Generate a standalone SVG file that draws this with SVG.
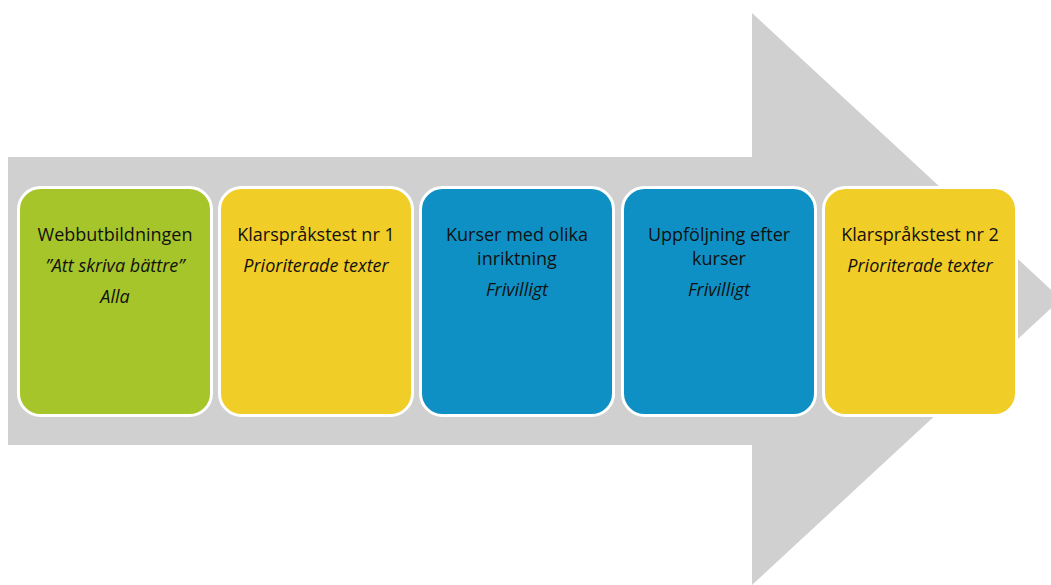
<svg xmlns="http://www.w3.org/2000/svg" width="1051" height="585" viewBox="0 0 1051 585">
<style>
.box{stroke:#fff;stroke-width:3}
.g{fill:#A5C52A}.y{fill:#F1CD27}.b{fill:#0F90C4}
text{font-family:"Open Sans","Liberation Sans",sans-serif;font-size:18px;fill:#111;text-anchor:middle}
.i{font-style:italic}
</style>
<rect width="1051" height="585" fill="#fff"/>
<g id="arrow">
<polygon points="8,157 752,157 752,13 1061,299 752,585 752,445 8,445" fill="#D0D0D0"/>
</g>
<g id="node1">
<rect class="box g" x="18.5" y="187.5" width="193" height="228" rx="22"/>
<text x="115" y="241">Webbutbildningen</text>
<text class="i" x="115" y="272">”Att skriva bättre”</text>
<text class="i" x="115" y="303">Alla</text>
</g>
<g id="node2">
<rect class="box y" x="219.5" y="187.5" width="193" height="228" rx="22"/>
<text x="316" y="241">Klarspråkstest nr 1</text>
<text class="i" x="316" y="272">Prioriterade texter</text>
</g>
<g id="node3">
<rect class="box b" x="420.5" y="187.5" width="193" height="228" rx="22"/>
<text x="517" y="241">Kurser med olika</text>
<text x="517" y="265">inriktning</text>
<text class="i" x="517" y="296">Frivilligt</text>
</g>
<g id="node4">
<rect class="box b" x="622.5" y="187.5" width="193" height="228" rx="22"/>
<text x="719" y="241">Uppföljning efter</text>
<text x="719" y="265">kurser</text>
<text class="i" x="719" y="296">Frivilligt</text>
</g>
<g id="node5">
<rect class="box y" x="823.5" y="187.5" width="193" height="228" rx="22"/>
<text x="920" y="241">Klarspråkstest nr 2</text>
<text class="i" x="920" y="272">Prioriterade texter</text>
</g>
<g id="connectors"></g>
</svg>
